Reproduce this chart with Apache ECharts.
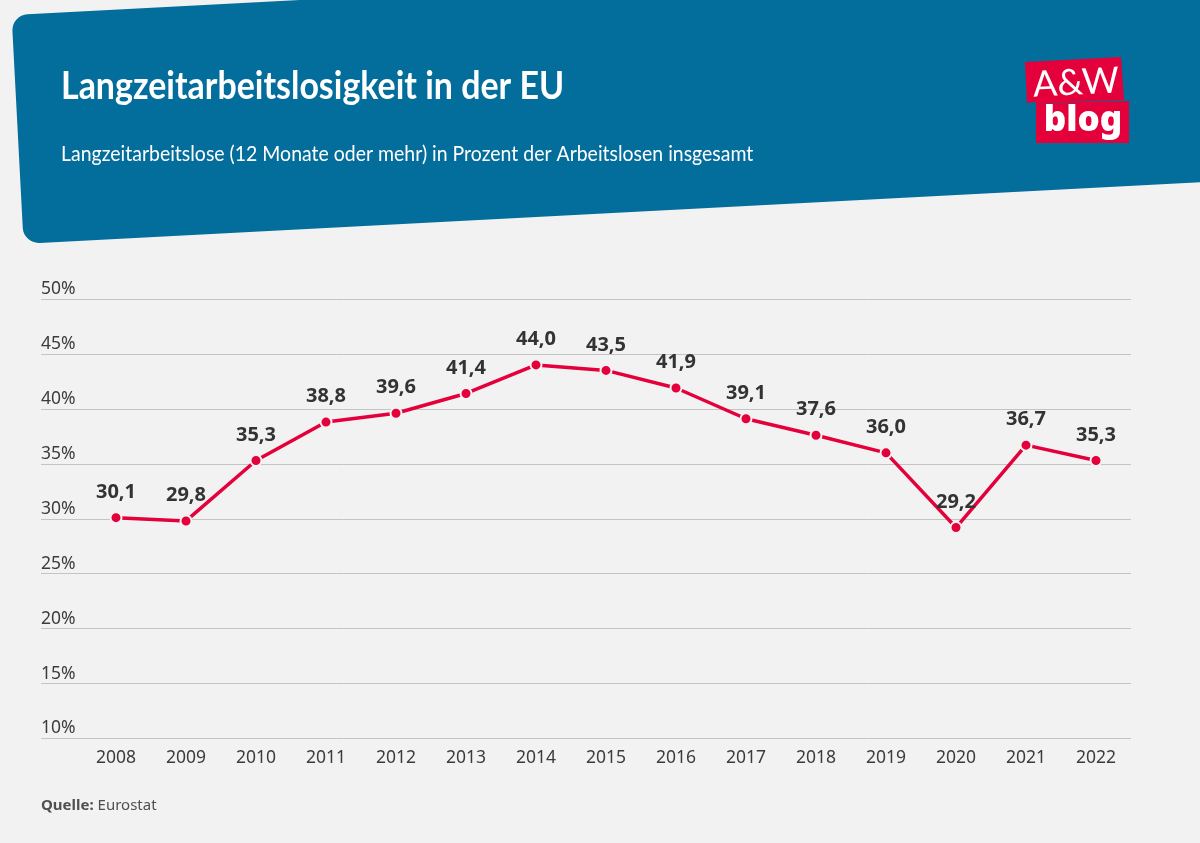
<!DOCTYPE html>
<html lang="de">
<head>
<meta charset="utf-8">
<title>Langzeitarbeitslosigkeit in der EU</title>
<script src="https://cdn.jsdelivr.net/npm/echarts@6/dist/echarts.min.js"></script>
<style>
html,body{margin:0;padding:0;background:#f2f2f2;}
#chart{width:1200px;height:843px;}
</style>
</head>
<body>
<div id="chart"></div>
<script>
var YEARS = ['2008','2009','2010','2011','2012','2013','2014','2015','2016','2017','2018','2019','2020','2021','2022'];
var SHARE = [30.1,29.8,35.3,38.8,39.6,41.4,44.0,43.5,41.9,39.1,37.6,36.0,29.2,36.7,35.3];
var Y_MIN = 10;
var Y_MAX = 50;
var Y_STEP = 5;

var TITLE = 'Langzeitarbeitslosigkeit in der EU';
var SUBTITLE = 'Langzeitarbeitslose (12 Monate oder mehr) in Prozent der Arbeitslosen insgesamt';

var FONT = '"Noto Sans", sans-serif';
var FONT_HEAD = 'Lato, "Noto Sans", sans-serif';
var RED = '#e4003a';
var BLUE = '#036d9c';
var BG = '#f2f2f2';
var GRID = '#c4c4c4';
var TEXT = '#3c3c3c';

function initChart() {
    var option = {
        animation: false,
        backgroundColor: BG,
        textStyle: {fontFamily: FONT},
        title: {
            text: '{b|Quelle:} Eurostat', left: 41, top: 798, padding: 0,
            textStyle: {
                color: '#505050', fontFamily: FONT, fontSize: 15, fontWeight: 'normal',
                rich: {b: {fontFamily: FONT, fontSize: 15, fontWeight: 'bold', color: '#505050'}}
            }
        },
        graphic: headerGraphics(),
        grid: {left: 81, right: 69, top: 299, height: 439.5, containLabel: false},
        xAxis: {
            type: 'category',
            data: YEARS,
            boundaryGap: true,
            axisLine: {show: false},
            axisTick: {show: false},
            axisLabel: {color: TEXT, fontSize: 17.5, margin: 11}
        },
        yAxis: {
            type: 'value',
            min: Y_MIN,
            max: Y_MAX,
            interval: Y_STEP,
            axisLine: {show: false},
            // ticks carry the gridlines out over the label column
            axisTick: {show: true, length: 40, lineStyle: {color: GRID, width: 1}},
            splitLine: {show: true, lineStyle: {color: GRID, width: 1}},
            axisLabel: {
                color: TEXT, fontSize: 17.5, margin: 40, align: 'left', verticalAlign: 'bottom',
                padding: [0, 0, 1, 0],
                formatter: '{value}%'
            }
        },
        series: [{
            type: 'line',
            data: SHARE,
            symbol: 'circle',
            symbolSize: 11,
            lineStyle: {color: RED, width: 3.5},
            itemStyle: {color: RED, borderColor: BG, borderWidth: 2},
            label: {
                show: true,
                position: 'top',
                distance: 9,
                color: '#333333',
                fontSize: 20,
                fontWeight: 'bold',
                formatter: function (p) {
                    return p.value.toFixed(1).replace('.', ',');
                }
            }
        }]
    };
    var myChart = echarts.init(document.getElementById('chart'), null, {renderer: 'canvas'});
    myChart.setOption(option);
}

// tilted header panel, headline texts and the logo
function headerGraphics() {
    var tilt = 3 * Math.PI / 180;
    return [
        {type: 'rect', x: 11.6, y: 15.1, rotation: tilt, z: 0, shape: {x: 0, y: 0, width: 1400, height: 229, r: 16}, style: {fill: BLUE}},
        {type: 'text', x: 61, y: 86, scaleX: 0.87, z: 2, style: {text: TITLE, fill: '#fff', font: 'bold 39px ' + FONT_HEAD, align: 'left', verticalAlign: 'middle'}},
        {type: 'text', x: 61, y: 154, scaleX: 0.885, z: 2, style: {text: SUBTITLE, fill: '#fff', font: '22px ' + FONT_HEAD, align: 'left', verticalAlign: 'middle'}},
        {type: 'polygon', z: 1, shape: {points: [[1025, 62], [1121, 57], [1124, 100], [1036, 103], [1036, 102], [1027, 103]]}, style: {fill: RED}},
        {type: 'polygon', z: 1, shape: {points: [[1036, 103], [1129, 101], [1129, 143], [1036, 143]]}, style: {fill: RED}},
        {type: 'text', x: 1076, y: 83, rotation: tilt, z: 2, style: {text: 'A&W', fill: '#fff', font: '400 36px ' + FONT_HEAD, align: 'center', verticalAlign: 'middle'}},
        {type: 'text', x: 1083, y: 121, z: 2, style: {text: 'blog', fill: '#fff', font: '900 35px ' + FONT, align: 'center', verticalAlign: 'middle'}}
    ];
}

initChart();
</script>
</body>
</html>
